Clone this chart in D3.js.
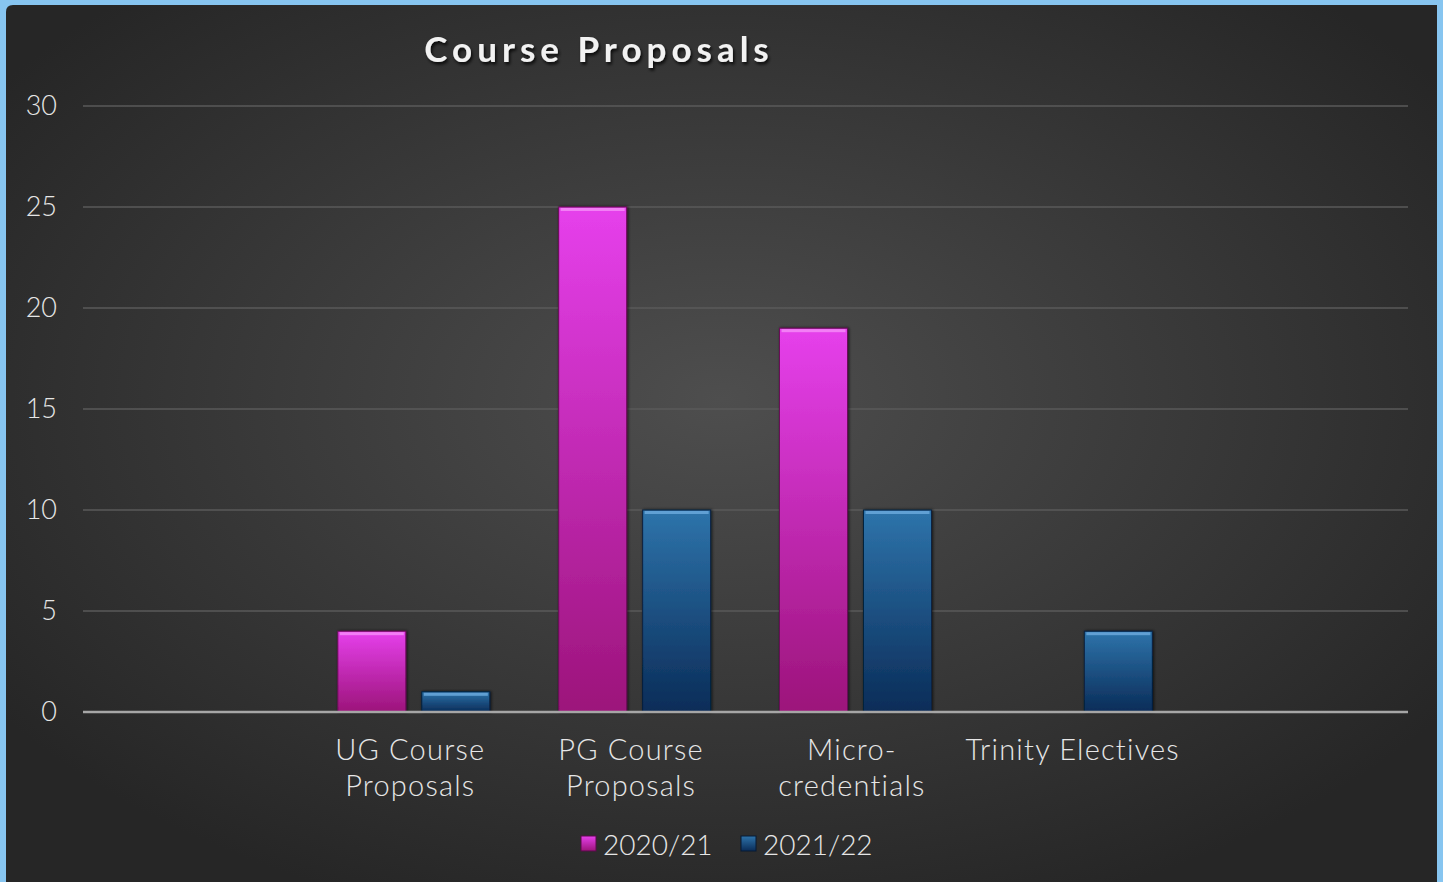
<!DOCTYPE html>
<html>
<head>
<meta charset="utf-8">
<script src="https://cdnjs.cloudflare.com/ajax/libs/d3/7.8.5/d3.min.js"></script>
<style>
  html, body { margin: 0; padding: 0; background: #87c5f0; }
  #chart { position: absolute; left: 0; top: 0; }
</style>
</head>
<body>
<div id="chart"></div>
<script>
// categories (the first and last slots are empty in the original chart)
var categories = ["", "UG Course\nProposals", "PG Course\nProposals", "Micro-\ncredentials", "Trinity Electives", ""];
var seriesNames = ["2020/21", "2021/22"];
var values2021 = [null, 4, 25, 19, 0, null];
var values2122 = [null, 1, 10, 10, 4, null];
var yTicks = [0, 5, 10, 15, 20, 25, 30];

var width = 1443, height = 882;
var plotLeft = 83, plotRight = 1408, plotTop = 106, plotBottom = 712;
var font = "Lato, 'DejaVu Sans', sans-serif";

var svg = d3.select("#chart")
    .append("svg")
    .attr("width", width)
    .attr("height", height);

var defs = svg.append("defs");

// background
var bg = defs.append("radialGradient").attr("id", "bg")
    .attr("cx", "50%").attr("cy", "45%").attr("r", "62%");
bg.append("stop").attr("offset", "0%").attr("stop-color", "#4e4e4e");
bg.append("stop").attr("offset", "100%").attr("stop-color", "#262626");

var pink = defs.append("linearGradient").attr("id", "pink")
    .attr("x1", 0).attr("y1", 0).attr("x2", 0).attr("y2", 1);
pink.append("stop").attr("offset", "0%").attr("stop-color", "#e640ec");
pink.append("stop").attr("offset", "100%").attr("stop-color", "#9c147a");

var blue = defs.append("linearGradient").attr("id", "blue")
    .attr("x1", 0).attr("y1", 0).attr("x2", 0).attr("y2", 1);
blue.append("stop").attr("offset", "0%").attr("stop-color", "#2e74ab");
blue.append("stop").attr("offset", "100%").attr("stop-color", "#0a2c58");

var shadow = defs.append("filter").attr("id", "tshadow")
    .attr("x", "-10%").attr("y", "-30%").attr("width", "120%").attr("height", "160%");
shadow.append("feDropShadow").attr("dx", 1.5).attr("dy", 2.5).attr("stdDeviation", 1.5)
    .attr("flood-color", "#000").attr("flood-opacity", 0.8);

var barShadow = defs.append("filter").attr("id", "bshadow")
    .attr("x", "-10%").attr("y", "-10%").attr("width", "120%").attr("height", "120%");
barShadow.append("feDropShadow").attr("dx", 1).attr("dy", 0).attr("stdDeviation", 1.5)
    .attr("flood-color", "#000").attr("flood-opacity", 0.7);

svg.append("path")
    .attr("d", "M6,12 Q6,5 13,5 L1437,5 L1437,882 L6,882 Z")
    .attr("fill", "url(#bg)");

// scales
var y = d3.scaleLinear().domain([0, 30]).range([plotBottom, plotTop]);
var x0 = d3.scaleBand().domain(d3.range(categories.length)).range([plotLeft, plotRight]);
var x1 = d3.scaleBand().domain([0, 1]).range([34, 186]).paddingInner(0.19);

// gridlines
svg.selectAll("line.grid")
    .data(yTicks.filter(function(d) { return d > 0; }))
    .enter()
    .append("line")
    .attr("x1", plotLeft).attr("x2", plotRight)
    .attr("y1", function(d) { return y(d); })
    .attr("y2", function(d) { return y(d); })
    .attr("stroke", "#5a5a5a")
    .attr("stroke-width", 1.5);

// y labels
svg.selectAll("text.ytick")
    .data(yTicks)
    .enter()
    .append("text")
    .text(function(d) { return d; })
    .attr("x", 57)
    .attr("y", function(d) { return y(d) + 9; })
    .attr("text-anchor", "end")
    .attr("font-family", font)
    .attr("font-weight", 300)
    .attr("font-size", "27px")
    .attr("fill", "#e6e6e6");

// bars
var rows = [];
categories.forEach(function(c, i) {
    [values2021[i], values2122[i]].forEach(function(v, s) {
        if (v) rows.push({ cat: i, s: s, value: v });
    });
});

var bars = svg.selectAll("g.bar")
    .data(rows)
    .enter()
    .append("g")
    .attr("transform", function(d) {
        return "translate(" + (x0(d.cat) + x1(d.s)) + ",0)";
    });

bars.append("rect")
    .attr("x", 0)
    .attr("y", function(d) { return y(d.value); })
    .attr("width", x1.bandwidth())
    .attr("height", function(d) { return plotBottom - y(d.value); })
    .attr("fill", function(d) { return d.s === 0 ? "url(#pink)" : "url(#blue)"; })
    .attr("stroke", function(d) { return d.s === 0 ? "#6a0a58" : "#07203f"; })
    .attr("stroke-width", 1)
    .attr("filter", "url(#bshadow)");

// top bevel highlight
bars.append("rect")
    .attr("x", 2)
    .attr("y", function(d) { return y(d.value) + 1; })
    .attr("width", x1.bandwidth() - 4)
    .attr("height", 3)
    .attr("fill", function(d) { return d.s === 0 ? "#f58af7" : "#6aa8dc"; })
    .attr("opacity", 0.85);

// baseline
svg.append("line")
    .attr("x1", plotLeft).attr("x2", plotRight)
    .attr("y1", y(0)).attr("y2", y(0))
    .attr("stroke", "#a6a6a6")
    .attr("stroke-width", 2.5);

// category labels
var catLabels = svg.selectAll("text.cat")
    .data(categories)
    .enter()
    .append("text")
    .attr("text-anchor", "middle")
    .attr("font-family", font)
    .attr("font-weight", 300)
    .attr("font-size", "29px")
    .attr("letter-spacing", "1.2px")
    .attr("fill", "#e6e6e6");

catLabels.each(function(d, i) {
    var lines = d.split("\n");
    var cx = x0(i) + x0.bandwidth() / 2 - 4;
    d3.select(this).selectAll("tspan")
        .data(lines)
        .enter()
        .append("tspan")
        .attr("x", cx)
        .attr("y", function(l, j) { return 760 + j * 36; })
        .text(function(l) { return l; });
});

// title
svg.append("text")
    .text("Course Proposals")
    .attr("x", 599)
    .attr("y", 62)
    .attr("text-anchor", "middle")
    .attr("font-family", font)
    .attr("font-weight", "bold")
    .attr("font-size", "35px")
    .attr("letter-spacing", "5px")
    .attr("fill", "#f2f2f2")
    .attr("filter", "url(#tshadow)");

// legend
var legendX = [581, 741];
var legend = svg.selectAll("g.legend")
    .data(seriesNames)
    .enter()
    .append("g")
    .attr("transform", function(d, i) { return "translate(" + legendX[i] + ",836)"; });

legend.append("rect")
    .attr("width", 15).attr("height", 15)
    .attr("fill", function(d, i) { return i === 0 ? "url(#pink)" : "url(#blue)"; })
    .attr("stroke", function(d, i) { return i === 0 ? "#5a0a4a" : "#061a35"; });

legend.append("text")
    .text(function(d) { return d; })
    .attr("x", 22)
    .attr("y", 19)
    .attr("font-family", font)
    .attr("font-weight", 300)
    .attr("font-size", "28px")
    .attr("fill", "#e6e6e6");
</script>
</body>
</html>
